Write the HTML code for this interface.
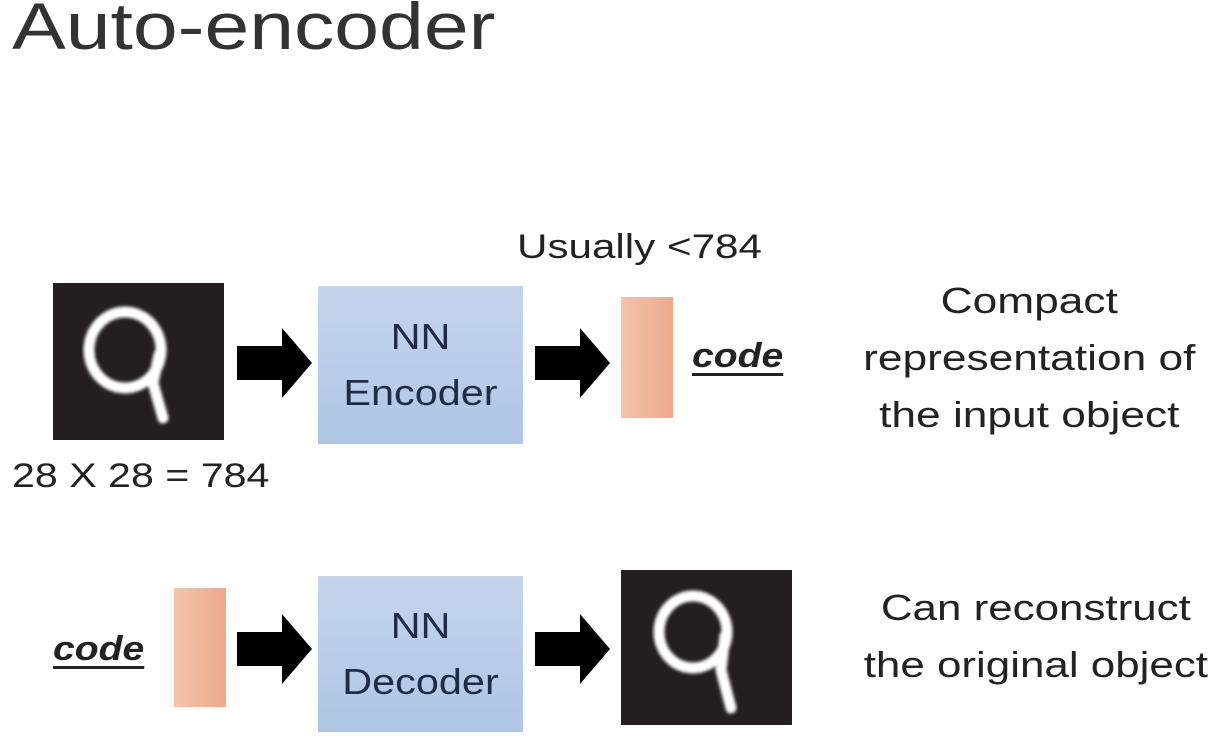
<!DOCTYPE html>
<html><head><style>
body{margin:0;width:1208px;height:744px;background:#fff;position:relative;overflow:hidden;font-family:"Liberation Sans","DejaVu Sans",sans-serif;color:#222}
.a{position:absolute}
.t{position:absolute;white-space:nowrap;transform-origin:0 0}
.img{background:#231f20}
.box{background:linear-gradient(#c3d5ec,#aec6e4);color:#1f2d44;font-size:36px;text-align:center;line-height:56px;display:flex;flex-direction:column;justify-content:center}
.box div{transform:scaleX(1.15)}
.bar{background:linear-gradient(90deg,#f4c3aa,#eba98c)}
.code{font-weight:bold;font-style:italic;font-size:34px;text-decoration:underline;text-underline-offset:6px;color:#222;transform:scaleX(1.15)}
</style></head><body>
<svg width="0" height="0" style="position:absolute"><defs><filter id="b"><feGaussianBlur stdDeviation="1.6"/></filter></defs></svg>
<div class="t" style="left:12px;top:-12px;font-size:66px;color:#333;transform:scaleX(1.22)">Auto-encoder</div>
<div class="t" style="left:517px;top:228px;font-size:34px;transform:scaleX(1.24)">Usually &lt;784</div>

<div class="a img" style="left:53px;top:283px;width:171px;height:157px"></div>
<svg class="a" style="left:53px;top:283px" width="171" height="157"><g fill="none" stroke="#fff" stroke-width="11" stroke-linecap="round" filter="url(#b)"><ellipse cx="72" cy="67" rx="36" ry="38"/><path d="M106 72 L100 100 L110 135"/></g></svg>

<svg class="a" style="left:237px;top:328px" width="76" height="70"><polygon points="0,18 45,18 45,0 75,35 45,70 45,52 0,52" fill="#000"/></svg>
<div class="a box" style="left:318px;top:286px;width:205px;height:158px"><div>NN</div><div>Encoder</div></div>
<svg class="a" style="left:535px;top:328px" width="76" height="70"><polygon points="0,18 45,18 45,0 75,35 45,70 45,52 0,52" fill="#000"/></svg>
<div class="a bar" style="left:621px;top:297px;width:52px;height:121px"></div>
<div class="t code" style="left:692px;top:337px">code</div>
<div class="t" style="left:862px;top:272px;font-size:36px;line-height:57px;text-align:center;width:272px;transform:scaleX(1.23)">Compact<br>representation of<br>the input object</div>
<div class="t" style="left:12px;top:457px;font-size:34px;transform:scaleX(1.21)">28 X 28 = 784</div>

<div class="t code" style="left:53px;top:630px">code</div>
<div class="a bar" style="left:174px;top:588px;width:52px;height:119px"></div>
<svg class="a" style="left:237px;top:614px" width="76" height="70"><polygon points="0,18 45,18 45,0 75,35 45,70 45,52 0,52" fill="#000"/></svg>
<div class="a box" style="left:318px;top:576px;width:205px;height:156px"><div>NN</div><div>Decoder</div></div>
<svg class="a" style="left:535px;top:614px" width="76" height="70"><polygon points="0,18 45,18 45,0 75,35 45,70 45,52 0,52" fill="#000"/></svg>
<div class="a img" style="left:621px;top:570px;width:171px;height:155px"></div>
<svg class="a" style="left:621px;top:570px" width="171" height="155"><g fill="none" stroke="#fff" stroke-width="11" stroke-linecap="round" filter="url(#b)"><ellipse cx="72" cy="62" rx="34" ry="36"/><path d="M104 66 L100 100 L110 138"/></g></svg>
<div class="t" style="left:862px;top:579px;font-size:36px;line-height:57px;text-align:center;width:285px;transform:scaleX(1.22)">Can reconstruct<br>the original object</div>
</body></html>
